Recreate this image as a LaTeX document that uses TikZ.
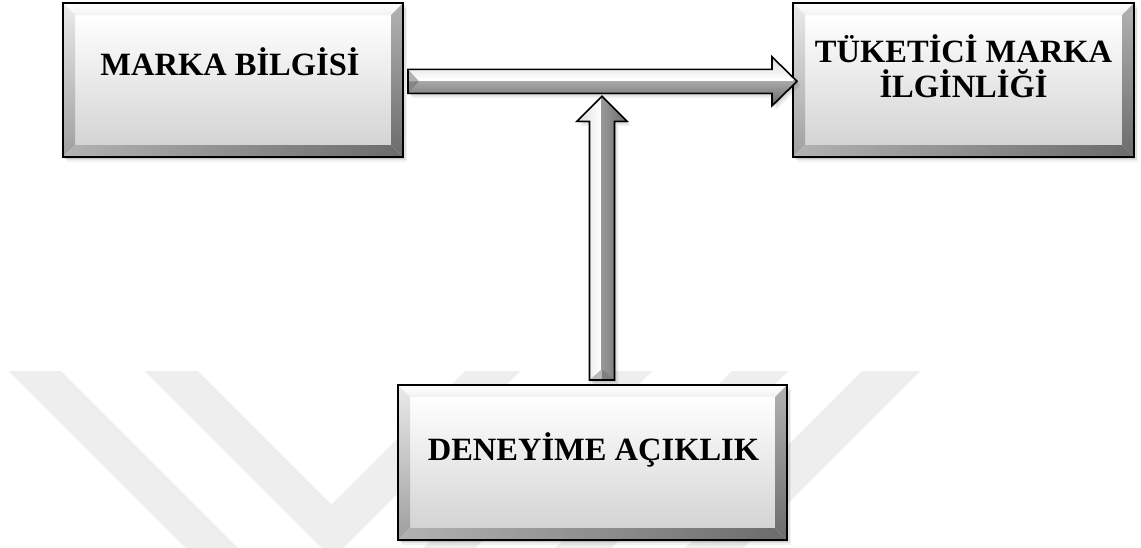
\documentclass[tikz,border=0pt]{standalone}
\usepackage{fontspec}
\setmainfont{Liberation Serif}
\usetikzlibrary{calc}

\definecolor{wmark}{gray}{0.935}
\newlength\bv
\setlength\bv{12pt}

\tikzset{
  softshadow/.style={
    preaction={fill=black, fill opacity=0.10, transform canvas={xshift=1pt,yshift=-1.5pt}},
    preaction={fill=black, fill opacity=0.07, transform canvas={xshift=2.5pt,yshift=-3pt}},
    preaction={fill=black, fill opacity=0.05, transform canvas={xshift=4pt,yshift=-4.5pt}}
  },
  bevelbox/.style={
    rectangle, draw=black, line width=2.4pt, inner sep=0pt, outer sep=0pt,
    fill=white, softshadow,
    path picture={
      \path (path picture bounding box.north west) coordinate (p1)
            (path picture bounding box.north east) coordinate (p2)
            (path picture bounding box.south east) coordinate (p3)
            (path picture bounding box.south west) coordinate (p4)
            ([xshift=\bv,yshift=-\bv]path picture bounding box.north west) coordinate (q1)
            ([xshift=-\bv,yshift=-\bv]path picture bounding box.north east) coordinate (q2)
            ([xshift=-\bv,yshift=\bv]path picture bounding box.south east) coordinate (q3)
            ([xshift=\bv,yshift=\bv]path picture bounding box.south west) coordinate (q4);
      \shade[top color=white, bottom color=black!17] (q1) rectangle (q3);
      \shade[top color=white, bottom color=black!5] (p1) -- (p2) -- (q2) -- (q1) -- cycle;
      \shade[top color=black!8, bottom color=black!38] (p1) -- (q1) -- (q4) -- (p4) -- cycle;
      \shade[top color=black!30, bottom color=black!58] (p2) -- (p3) -- (q3) -- (q2) -- cycle;
      \shade[left color=black!30, right color=black!58] (p4) -- (q4) -- (q3) -- (p3) -- cycle;
    }
  },
  boxlabel/.style={
    font=\bfseries\fontsize{32.5}{35}\selectfont, align=center, inner sep=0pt
  },
  arrowedge/.style={draw=black, line width=1.6pt, line join=miter}
}

% horizontal block arrow: #1 = tail centre, #2 = tip
\newcommand\hblockarrow[2]{%
  \path[softshadow] ($(#1)+(0,-12)$) -- ($(#2)+(-25,-12)$) -- ($(#2)+(-25,-24.5)$) -- (#2)
      -- ($(#2)+(-25,24.5)$) -- ($(#2)+(-25,12)$) -- ($(#1)+(0,12)$) -- cycle;
  \begin{scope}
    \clip ($(#1)+(0,-12)$) -- ($(#2)+(-25,-12)$) -- ($(#2)+(-25,-24.5)$) -- (#2)
      -- ($(#2)+(-25,24.5)$) -- ($(#2)+(-25,12)$) -- ($(#1)+(0,12)$) -- cycle;
    \shade[top color=black!16, bottom color=white] ($(#1)+(0,-26)$) rectangle ($(#2)+(0,-1)$);
    \shade[top color=black!33, bottom color=black!62] ($(#1)+(0,-1)$) rectangle ($(#2)+(0,26)$);
    \fill[white] ($(#1)+(0,-2.2)$) rectangle ($(#2)+(-4,-0.8)$);
    \fill[black!30] ($(#1)+(0,-12)$) -- ($(#1)+(11,0)$) -- (#1) -- cycle;
    \fill[black!48] (#1) -- ($(#1)+(11,0)$) -- ($(#1)+(0,12)$) -- cycle;
  \end{scope}
  \path[arrowedge] ($(#1)+(0,-12)$) -- ($(#2)+(-25,-12)$) -- ($(#2)+(-25,-24.5)$) -- (#2)
      -- ($(#2)+(-25,24.5)$) -- ($(#2)+(-25,12)$) -- ($(#1)+(0,12)$) -- cycle;
}

% vertical block arrow: #1 = tail centre (bottom), #2 = tip (top)
\newcommand\vblockarrow[2]{%
  \path[softshadow] ($(#1)+(-12.5,0)$) -- ($(#2)+(-12.5,25)$) -- ($(#2)+(-25,25)$) -- (#2)
      -- ($(#2)+(25,25)$) -- ($(#2)+(12.5,25)$) -- ($(#1)+(12.5,0)$) -- cycle;
  \begin{scope}
    \clip ($(#1)+(-12.5,0)$) -- ($(#2)+(-12.5,25)$) -- ($(#2)+(-25,25)$) -- (#2)
      -- ($(#2)+(25,25)$) -- ($(#2)+(12.5,25)$) -- ($(#1)+(12.5,0)$) -- cycle;
    \shade[left color=black!14, right color=white] ($(#2)+(-26,0)$) rectangle ($(#1)+(-1,0)$);
    \shade[left color=black!40, right color=black!58] ($(#2)+(-1,0)$) rectangle ($(#1)+(26,0)$);
    \fill[white] ($(#2)+(-2.2,8)$) rectangle ($(#1)+(-0.8,-6)$);
    \fill[black!28] ($(#1)+(-12.5,0)$) -- ($(#1)+(0,-11)$) -- (#1) -- cycle;
    \fill[black!50] (#1) -- ($(#1)+(0,-11)$) -- ($(#1)+(12.5,0)$) -- cycle;
  \end{scope}
  \path[arrowedge] ($(#1)+(-12.5,0)$) -- ($(#2)+(-12.5,25)$) -- ($(#2)+(-25,25)$) -- (#2)
      -- ($(#2)+(25,25)$) -- ($(#2)+(12.5,25)$) -- ($(#1)+(12.5,0)$) -- cycle;
}

\begin{document}
\begin{tikzpicture}[x=1pt, y=-1pt]
  \useasboundingbox (0,0) rectangle (1141,547);
  \fill[white] (0,0) rectangle (1141,547);

  % faint nested chevrons in the background
  \begin{scope}
    \clip (0,0) rectangle (1141,547);
    \fill[wmark] (145,371) -- (198,371) -- (331.5,504.5) -- (465,371) -- (520,371) -- (332.5,558.5) -- cycle;
    \fill[wmark] (9,371) -- (61,371) -- (330.5,640.5) -- (600,371) -- (652,371) -- (330.5,692.5) -- cycle;
    \fill[wmark] (732,371) -- (788,371) -- (488,671) -- (432,671) -- cycle;
    \fill[wmark] (862,371) -- (920,371) -- (620,671) -- (562,671) -- cycle;
  \end{scope}

  % boxes
  \node[bevelbox, minimum width=340pt, minimum height=154pt] (mb) at (233,80) {};
  \node[bevelbox, minimum width=341pt, minimum height=154pt] (tk) at (963.5,80) {};
  \node[bevelbox, minimum width=389pt, minimum height=155pt] (da) at (592.5,462.5) {};

  % labels
  \node[boxlabel, anchor=base] (mbt) at ($(mb.north)+(-3,72)$) {MARKA BİLGİSİ};
  \node[boxlabel, anchor=base] (tkt1) at ($(tk.north)+(0,59)$) {TÜKETİCİ MARKA};
  \node[boxlabel, anchor=base] (tkt2) at ($(tk.north)+(0,94)$) {İLGİNLİĞİ};
  \node[boxlabel, anchor=base] (dat) at ($(da.north)+(1,75)$) {DENEYİME AÇIKLIK};

  % connectors
  \coordinate (hstart) at ($(mb.east)+(5,1.3)$);
  \coordinate (hend) at ($(tk.west)+(4,1.3)$);
  \coordinate (vstart) at ($(da.north)+(9.5,-5)$);
  \coordinate (vend) at ($(da.north |- hstart)+(9.5,15)$);
  \vblockarrow{vstart}{vend}
  \hblockarrow{hstart}{hend}
\end{tikzpicture}
\end{document}
